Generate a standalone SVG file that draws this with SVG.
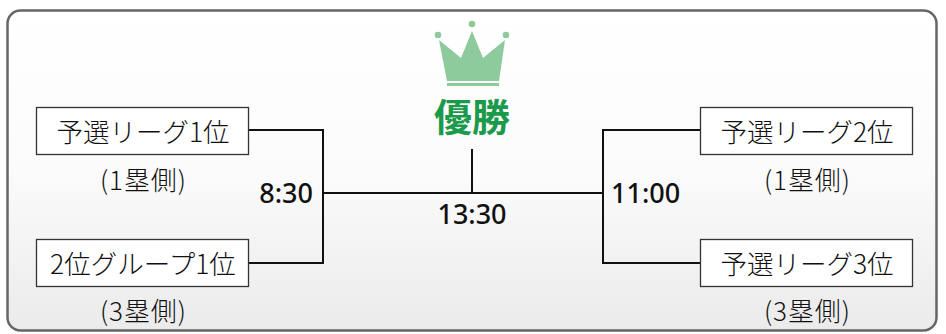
<svg xmlns="http://www.w3.org/2000/svg" width="946" height="334" viewBox="0 0 946 334">
<defs>
<linearGradient id="bg" x1="0" y1="0" x2="0" y2="1">
<stop offset="0" stop-color="#ffffff"/>
<stop offset="0.5" stop-color="#fbfbfb"/>
<stop offset="1" stop-color="#ebebeb"/>
</linearGradient>
<style>
.t{font-family:"Noto Sans CJK JP","Noto Sans",sans-serif;fill:#111;font-size:26.5px;font-weight:300;text-anchor:middle}
.p{font-size:26px}
.tm{font-family:"Noto Sans","Noto Sans CJK JP",sans-serif;fill:#111;font-size:27px;font-weight:500}
.box{fill:#fff;stroke:#333;stroke-width:1.3}
.ln{fill:none;stroke:#111;stroke-width:2}
</style>
</defs>
<rect x="7.5" y="10.5" width="929" height="320" rx="13" fill="url(#bg)" stroke="#666" stroke-width="2.5"/>
<g id="crown">
<circle cx="438" cy="35" r="3.3" fill="#8dca9c"/>
<circle cx="472" cy="24" r="3.3" fill="#8dca9c"/>
<circle cx="506" cy="35" r="3.3" fill="#8dca9c"/>
<polygon points="447,81 439,40 461,58 472,31 483,58 505,40 499,81" fill="#8dca9c"/>
<rect x="447" y="83" width="52" height="3" fill="#8dca9c"/>
</g>
<g id="champion"><text x="472" y="131" style="font-family:'Noto Sans CJK JP',sans-serif;font-size:38px;font-weight:700;fill:#1c9a4b;text-anchor:middle">優勝</text></g>
<g id="connectors">
<polyline class="ln" points="249,130 323,130 323,263 249,263"/>
<polyline class="ln" points="700,130 603,130 603,263 700,263"/>
<line class="ln" x1="323" y1="193" x2="603" y2="193"/>
<line class="ln" x1="472" y1="149" x2="472" y2="193"/>
</g>
<g id="n1"><rect class="box" x="36.5" y="107.5" width="212" height="47"/><text class="t" x="143" y="142">予選リーグ1位</text><text class="t p" x="143" y="190" textLength="86" lengthAdjust="spacing">(1塁側)</text></g>
<g id="n2"><rect class="box" x="36.5" y="239.5" width="212" height="47"/><text class="t" x="143" y="274">2位グループ1位</text><text class="t p" x="143" y="321" textLength="86" lengthAdjust="spacing">(3塁側)</text></g>
<g id="n3"><rect class="box" x="700.5" y="107.5" width="212" height="47"/><text class="t" x="807" y="142">予選リーグ2位</text><text class="t p" x="807" y="190" textLength="86" lengthAdjust="spacing">(1塁側)</text></g>
<g id="n4"><rect class="box" x="700.5" y="239.5" width="212" height="47"/><text class="t" x="807" y="274">予選リーグ3位</text><text class="t p" x="807" y="321" textLength="86" lengthAdjust="spacing">(3塁側)</text></g>
<g id="times">
<text class="tm" x="313" y="203" text-anchor="end">8:30</text>
<text class="tm" x="472" y="224" text-anchor="middle">13:30</text>
<text class="tm" x="611" y="203">11:00</text>
</g>
</svg>
